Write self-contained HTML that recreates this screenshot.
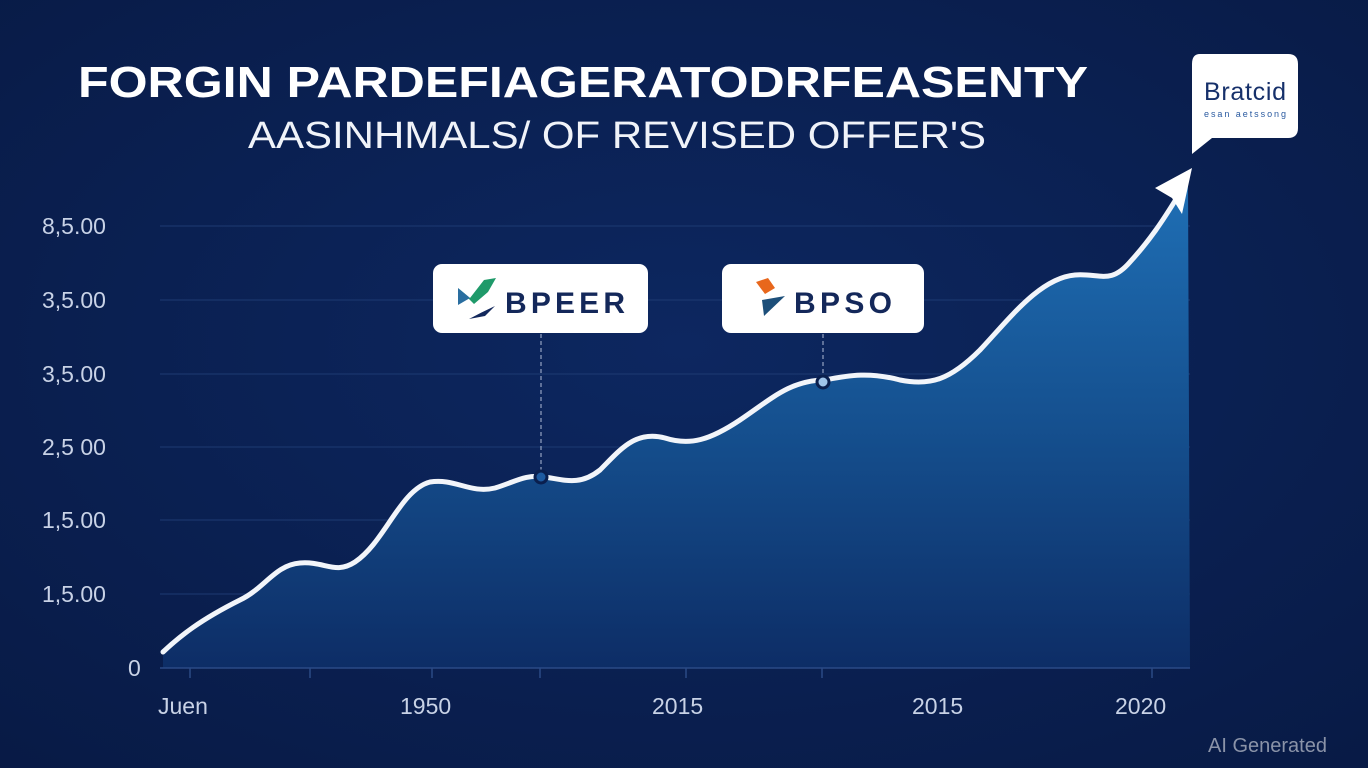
<!DOCTYPE html>
<html><head><meta charset="utf-8"><style>
html,body{margin:0;padding:0;background:#0a1f4e;}
svg{display:block}
</style></head><body>
<svg width="1368" height="768" viewBox="0 0 1368 768" xmlns="http://www.w3.org/2000/svg">
<defs>
<radialGradient id="bg" cx="50%" cy="45%" r="75%">
<stop offset="0" stop-color="#0d2760"/><stop offset="1" stop-color="#081a45"/>
</radialGradient>
<linearGradient id="ar" x1="0" y1="0" x2="0" y2="1">
<stop offset="0" stop-color="#1f6fb5"/><stop offset="0.5" stop-color="#15508f"/><stop offset="1" stop-color="#0d2d66"/>
</linearGradient>
</defs>
<rect width="1368" height="768" fill="url(#bg)"/>
<g stroke="#1d3a72" stroke-width="1">
<line x1="160" y1="226" x2="1190" y2="226"/><line x1="160" y1="300" x2="1190" y2="300"/>
<line x1="160" y1="374" x2="1190" y2="374"/><line x1="160" y1="447" x2="1190" y2="447"/>
<line x1="160" y1="520" x2="1190" y2="520"/><line x1="160" y1="594" x2="1190" y2="594"/>
</g>
<path d="M163,652 C180,636 200,620 240,600 C265,588 275,565 300,563 C325,561 335,575 355,562 C385,542 400,490 430,482 C455,478 470,494 495,488 C515,482 525,474 545,477 C565,480 580,486 600,470 C620,450 635,430 665,438 C690,446 710,440 740,420 C770,400 790,380 825,380 C850,375 870,372 900,380 C930,386 950,380 980,350 C1010,318 1040,278 1075,275 C1100,273 1110,285 1130,262 C1150,240 1165,215 1188,182 L1190,668 L163,668 Z" fill="url(#ar)"/>
<path d="M163,652 C180,636 200,620 240,600 C265,588 275,565 300,563 C325,561 335,575 355,562 C385,542 400,490 430,482 C455,478 470,494 495,488 C515,482 525,474 545,477 C565,480 580,486 600,470 C620,450 635,430 665,438 C690,446 710,440 740,420 C770,400 790,380 825,380 C850,375 870,372 900,380 C930,386 950,380 980,350 C1010,318 1040,278 1075,275 C1100,273 1110,285 1130,262 C1150,240 1162,222 1178,196" fill="none" stroke="#f2f5fa" stroke-width="5" stroke-linecap="round"/>
<polygon points="1192,168 1155,188 1172,198 1182,214" fill="#fff"/>
<line x1="160" y1="668" x2="1190" y2="668" stroke="#2a4a85" stroke-width="1.5"/>
<g stroke="#2a4a85" stroke-width="1.5">
<line x1="190" y1="668" x2="190" y2="678"/><line x1="310" y1="668" x2="310" y2="678"/><line x1="432" y1="668" x2="432" y2="678"/><line x1="540" y1="668" x2="540" y2="678"/><line x1="686" y1="668" x2="686" y2="678"/><line x1="822" y1="668" x2="822" y2="678"/><line x1="1152" y1="668" x2="1152" y2="678"/>
</g>
<g font-family="Liberation Sans, sans-serif" fill="#c8d2e6" font-size="23">
<text x="42" y="234">8,5.00</text><text x="42" y="308">3,5.00</text><text x="42" y="382">3,5.00</text>
<text x="42" y="455">2,5 00</text><text x="42" y="528">1,5.00</text><text x="42" y="602">1,5.00</text><text x="128" y="676">0</text>
<text x="158" y="714">Juen</text><text x="400" y="714">1950</text><text x="652" y="714">2015</text><text x="912" y="714">2015</text><text x="1115" y="714">2020</text>
</g>
<line x1="541" y1="334" x2="541" y2="476" stroke="#b0bcd6" stroke-dasharray="4,3"/>
<line x1="823" y1="334" x2="823" y2="380" stroke="#b0bcd6" stroke-dasharray="4,3"/>
<circle cx="541" cy="477" r="6" fill="#1d5aa0" stroke="#0a1f4e" stroke-width="3"/>
<circle cx="823" cy="382" r="6" fill="#9fc4ea" stroke="#0a1f4e" stroke-width="3"/>
<rect x="433" y="264" width="215" height="69" rx="9" fill="#fff"/>
<path d="M458,288 L470,298 L484,280 L496,278 L488,292 L474,304 Z" fill="#1f9a6a"/>
<path d="M458,288 L458,305 L470,298 Z" fill="#2a6ea0"/>
<path d="M469,319 Q482,312 495,306 L485,316 Z" fill="#13285c"/>
<text x="505" y="313" font-family="Liberation Sans, sans-serif" font-weight="bold" font-size="30" fill="#14285a" textLength="120">BPEER</text>
<rect x="722" y="264" width="202" height="69" rx="9" fill="#fff"/>
<path d="M756,282 L768,278 L775,288 L765,294 Z" fill="#e8671c"/>
<path d="M762,300 L785,296 L764,316 Z" fill="#1d4f7a"/>
<text x="794" y="313" font-family="Liberation Sans, sans-serif" font-weight="bold" font-size="30" fill="#14285a" textLength="98">BPSO</text>
<path d="M1200,54 L1288,54 Q1298,54 1298,64 L1298,128 Q1298,138 1288,138 L1212,138 L1192,154 L1192,64 Q1192,54 1200,54 Z" fill="#fff"/>
<text x="1204" y="100" font-family="Liberation Sans, sans-serif" font-size="25" fill="#16306a" textLength="82">Bratcid</text>
<text x="1204" y="117" font-family="Liberation Sans, sans-serif" font-size="9" fill="#2a5aa0" textLength="82">esan aetssong</text>
<text x="78" y="97" font-family="Liberation Sans, sans-serif" font-weight="bold" font-size="44" fill="#fff" textLength="1010" lengthAdjust="spacingAndGlyphs">FORGIN PARDEFIAGERATODRFEASENTY</text>
<text x="248" y="148" font-family="Liberation Sans, sans-serif" font-size="38" fill="#f0f3f9" textLength="738" lengthAdjust="spacingAndGlyphs">AASINHMALS/ OF REVISED OFFER'S</text>
<text x="1208" y="752" font-family="Liberation Sans, sans-serif" font-size="20" fill="#8a93a8">AI Generated</text>
</svg>
</body></html>
